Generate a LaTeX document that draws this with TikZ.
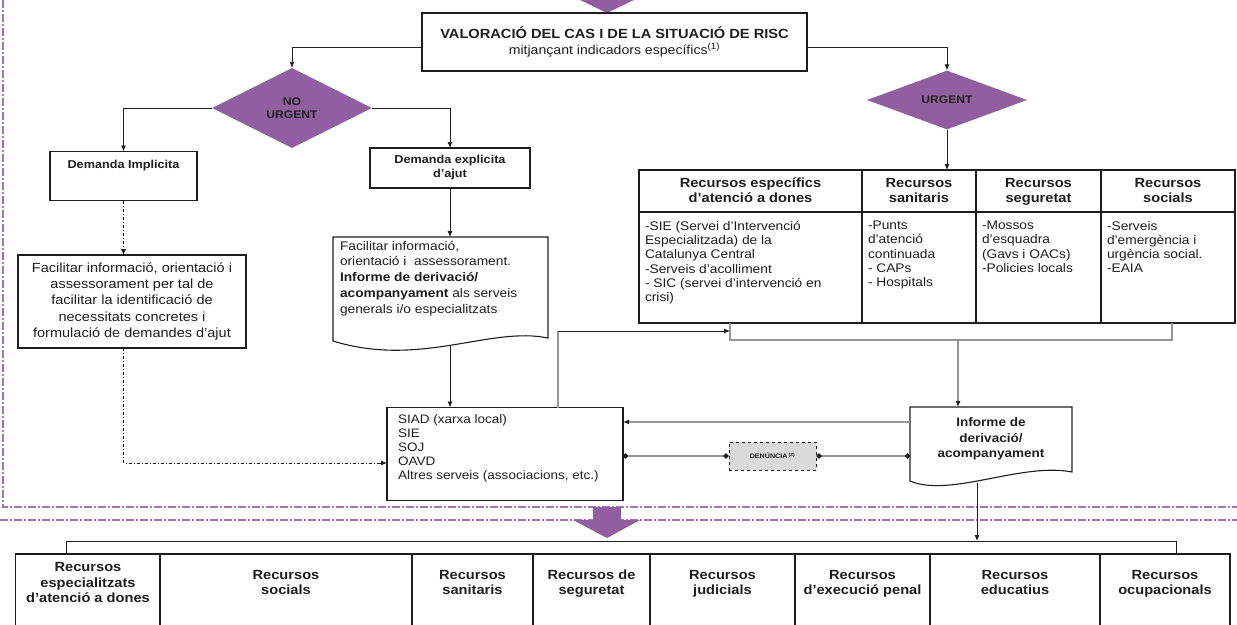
\documentclass[tikz,border=0pt]{standalone}
\usepackage{fontspec}
\setmainfont{Liberation Sans}[FakeStretch=1.1]
\usetikzlibrary{shapes.geometric,arrows.meta}
\definecolor{purp}{RGB}{145,94,160}
\definecolor{purpl}{RGB}{165,115,180}
\definecolor{gline}{RGB}{150,150,150}
\definecolor{denfill}{RGB}{218,218,218}
\definecolor{ink}{RGB}{30,30,30}
\newcommand\myfs[2]{\fontsize{#1}{#2}\selectfont}
\begin{document}
\begin{tikzpicture}[x=1pt,y=-1pt,
  bx/.style={draw=ink,line width=1.1pt,rectangle,inner sep=0pt,outer sep=0pt,align=center,text=ink},
  ghost/.style={rectangle,inner sep=0pt,outer sep=0pt},
  txt/.style={inner sep=0pt,outer sep=0pt,text=ink},
  ln/.style={draw=ink,line width=0.9pt},
  gl/.style={draw=gline,line width=1.4pt},
  arw/.style={-{Latex[length=6pt,width=5pt,color=ink]}},
  dd/.style={dash pattern=on 3pt off 2pt on 1pt off 2pt},
  dotends/.style={{Circle[length=5pt,color=ink]}-{Circle[length=5pt,color=ink]}},
  pdash/.style={draw=purpl,line width=1.6pt,dash pattern=on 8pt off 2pt on 2pt off 2pt},
  dia/.style={diamond,fill=purp,draw=none,inner sep=0pt,align=center,text=ink,font={\myfs{11}{13}\bfseries}},
  hd/.style={txt,align=center,font={\myfs{13.3}{15}\bfseries}},
  bhd/.style={txt,align=center,font={\myfs{13.3}{15.5}\bfseries}},
  ct/.style={txt,align=left,anchor=north west,font={\myfs{12.5}{14.3}}},
  bcell/.style={draw=ink,line width=1.1pt,rectangle,inner sep=0pt,outer sep=0pt,minimum height=80pt},
]
\useasboundingbox (0,0) rectangle (1237,624);

% purple frame lines
\draw[pdash] (0,520) -- (1237,520);
\draw[pdash] (3,0) -- (3,507) -- (1237,507);

% purple arrows
\fill[purp] (576,-2) -- (638,-2) -- (607,13) -- cycle;
\fill[purp] (593,507) -- (621,507) -- (621,520) -- (640,520) -- (607,538) -- (573,520) -- (593,520) -- cycle;

% top box
\node[bx,minimum width=385pt,minimum height=58pt,font={\myfs{12.8}{15.5}}] (val) at (614.5,42)
  {\myfs{13.3}{15}\bfseries VALORACIÓ DEL CAS I DE LA SITUACIÓ DE RISC\\
   mitjançant indicadors específics\textsuperscript{(1)}};

% diamonds
\node[dia,minimum width=160pt,minimum height=80pt] (nou) at (292,108) {NO\\URGENT};
\node[dia,minimum width=160pt,minimum height=56pt] (urg) at (947,100) {URGENT};

\draw[ln,arw] ([yshift=-5pt]val.west) -| (nou.north);
\draw[ln,arw] ([yshift=-5pt]val.east) -| (urg.north);

% left branch
\node[bx,minimum width=147pt,minimum height=49pt] (impl) at (123.5,176) {};
\node[txt,anchor=north,font={\myfs{11.5}{13}\bfseries}] (implt) at ([yshift=-9pt]impl.north) {Demanda Implicita};
\node[bx,minimum width=160pt,minimum height=40pt,font={\myfs{11.5}{14}\bfseries}] (expl) at (450,168)
  {Demanda explicita\\d'ajut};
\draw[ln,arw] (nou.west) -| (impl.north);
\draw[ln,arw] (nou.east) -| (expl.north);

\node[bx,minimum width=228pt,minimum height=93pt,font={\myfs{13.2}{16.2}}] (fac1) at (132,301.5)
  {Facilitar informació, orientació i\\assessorament per tal de\\facilitar la identificació de\\necessitats concretes i\\formulació de demandes d'ajut};

% document shape 1
\node[ghost,minimum width=215pt,minimum height=101pt] (doc1) at (440.5,287.5) {};
\draw[ink,line width=1.1pt] (doc1.north west) -- (doc1.north east) -- (doc1.south east)
  .. controls (490,326) and (420,368) .. (333,341) -- cycle;
\node[txt,align=left,anchor=north west,font={\myfs{12.5}{15.7}}] (doc1t) at (340,241)
  {Facilitar informació,\\orientació i \ assessorament.\\\textbf{Informe de derivació/}\\\textbf{acompanyament} als serveis\\generals i/o especialitzats};
\coordinate (d1b) at (440,346);

% SIAD box
\node[bx,minimum width=236pt,minimum height=93pt] (siad) at (505,454) {};
\node[txt,align=left,anchor=north west,font={\myfs{12.3}{13.8}}] (siadt) at (398,415)
  {SIAD (xarxa local)\\SIE\\SOJ\\OAVD\\Altres serveis (associacions, etc.)};

\draw[ln,arw] (expl.south) -- (expl.south |- doc1.north);
\draw[ln,arw] (expl.south |- d1b) -- (expl.south |- siad.north);
\draw[ln,dd] (impl.south) -- (impl.south |- fac1.north);
\draw[ln,arw] ([yshift=2pt]impl.south |- fac1.north) -- (impl.south |- fac1.north);
\draw[ln,dd] (impl.south |- fac1.south) |- ([xshift=-6pt,yshift=-9pt]siad.west);
\draw[ln,arw] ([xshift=-7pt,yshift=-9pt]siad.west) -- ([yshift=-9pt]siad.west);

% top table
\node[bx,minimum width=596pt,minimum height=153pt] (tbl) at (937,246.5) {};
\draw[ln,line width=1.1pt] (639,212) -- (1235,212);
\draw[ln,line width=1.1pt] (862,170) -- (862,323) (976,170) -- (976,323) (1101,170) -- (1101,323);
\node[hd] (h1) at (750.5,192) {Recursos específics\strut\\d'atenció a dones\strut};
\node[hd] (h2) at (919,192) {Recursos\strut\\sanitaris\strut};
\node[hd] (h3) at (1038.5,192) {Recursos\strut\\seguretat\strut};
\node[hd] (h4) at (1168,192) {Recursos\strut\\socials\strut};
\node[ct] (c1) at (645,221) {-SIE (Servei d'Intervenció\\Especialitzada) de la\\Catalunya Central\\-Serveis d'acolliment\\- SIC (servei d'intervenció en\\crisi)};
\node[ct] (c2) at (868,221) {-Punts\\d'atenció\\continuada\\- CAPs\\- Hospitals};
\node[ct] (c3) at (982,221) {-Mossos\\d'esquadra\\(Gavs i OACs)\\-Policies locals};
\node[ct] (c4) at (1107,221) {-Serveis\\d'emergència i\\urgència social.\\-EAIA};
\draw[ln,arw] (urg.south) -- (urg.south |- tbl.north);

% bracket under table
\coordinate (bl) at (730,340);
\coordinate (br) at (1172,340);
\draw[gl] (bl |- tbl.south) -- (bl) -- (br) -- (br |- tbl.south);
\coordinate (sx) at (558,331);
\draw[gl] (sx |- siad.north) -- (sx);
\draw[ln,arw] (sx) -- (bl |- sx);

% Informe document
\node[ghost,minimum width=162pt,minimum height=65pt] (inf) at (991,439.5) {};
\draw[ink,line width=1.1pt] (inf.north west) -- (inf.north east) -- (inf.south east)
  .. controls (1022,462) and (950,498) .. (910,481) -- cycle;
\node[txt,align=center,font={\myfs{12.3}{15.5}\bfseries}] (inft) at (991,439) {Informe de\strut\\derivació/\strut\\acompanyament\strut};
\coordinate (dx) at (958,340);
\draw[gl,arw] (dx) -- (dx |- inf.north);

% links SIAD - Informe
\coordinate (r1) at (0,422);
\draw[gl,arw] (inf.west |- r1) -- (siad.east |- r1);
\node[draw=ink,dashed,line width=1pt,fill=denfill,minimum width=87pt,minimum height=28pt,inner sep=0pt,font={\myfs{6.5}{7}\bfseries},text=ink] (den) at (772.5,456)
  {DENÚNCIA\,\textsuperscript{(2)}};
\draw[gl,dotends] (siad.east |- den.west) -- (den.west);
\draw[gl,dotends] (den.east) -- (inf.west |- den.east);

% bottom table
\node[bcell,minimum width=145pt] (b1) at (88,594) {};
\node[bcell,minimum width=252pt] (b2) at (286,594) {};
\node[bcell,minimum width=121pt] (b3) at (472.5,594) {};
\node[bcell,minimum width=117pt] (b4) at (591.5,594) {};
\node[bcell,minimum width=145pt] (b5) at (722.5,594) {};
\node[bcell,minimum width=135pt] (b6) at (862.5,594) {};
\node[bcell,minimum width=170pt] (b7) at (1015,594) {};
\node[bcell,minimum width=130pt] (b8) at (1165,594) {};
\node[bhd] (t1) at (88,584) {Recursos\strut\\especialitzats\strut\\d'atenció a dones\strut};
\node[bhd] (t2) at (286,584) {Recursos\strut\\socials\strut};
\node[bhd] (t3) at (472.5,584) {Recursos\strut\\sanitaris\strut};
\node[bhd] (t4) at (591.5,584) {Recursos de\strut\\seguretat\strut};
\node[bhd] (t5) at (722.5,584) {Recursos\strut\\judicials\strut};
\node[bhd] (t6) at (862.5,584) {Recursos\strut\\d'execució penal\strut};
\node[bhd] (t7) at (1015,584) {Recursos\strut\\educatius\strut};
\node[bhd] (t8) at (1165,584) {Recursos\strut\\ocupacionals\strut};

\coordinate (hl) at (0,541);
\coordinate (tl) at (66,541);
\coordinate (tr) at (1176,541);
\draw[ln] (tl |- b1.north) -- (tl) -- (tr) -- (tr |- b8.north);
\coordinate (ib) at (977,483);
\draw[ln,arw] (ib) -- (ib |- hl);
\end{tikzpicture}
\end{document}
